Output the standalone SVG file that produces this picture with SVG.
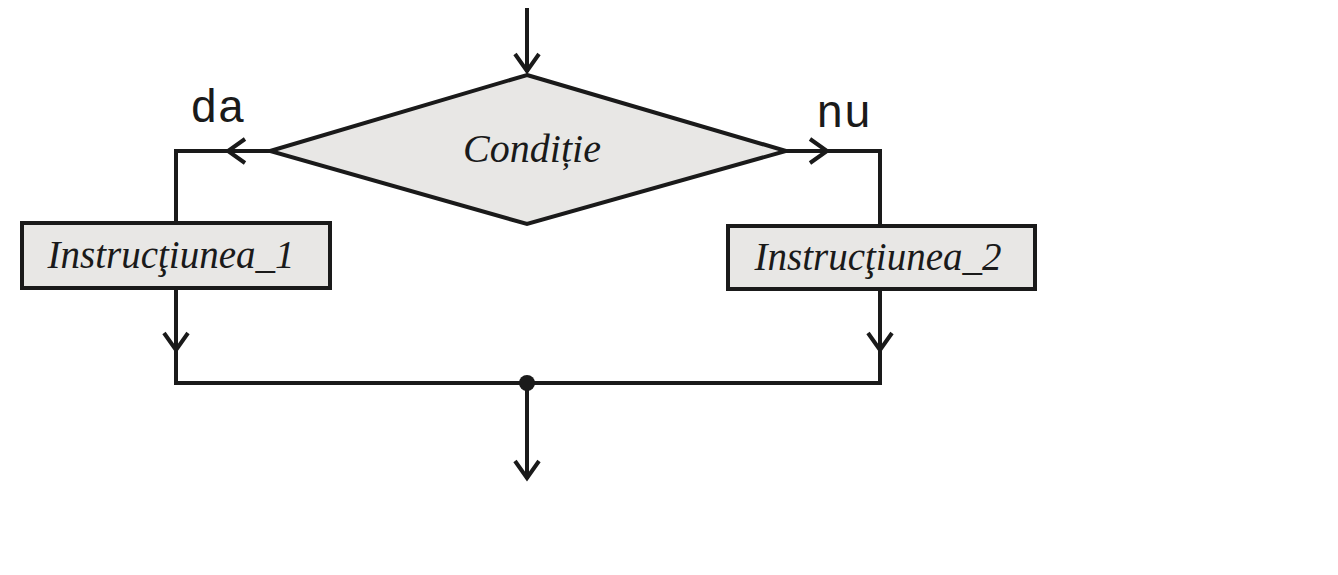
<svg xmlns="http://www.w3.org/2000/svg" width="1338" height="575" viewBox="0 0 1338 575">
  <style>
    .shape { fill: #e8e7e5; stroke: #1a1a1a; stroke-width: 4; }
    .line { fill: none; stroke: #1a1a1a; stroke-width: 4; stroke-linejoin: miter; }
    .arr { marker-end: url(#open); }
    .lbl { font-family: "Liberation Serif", "Times New Roman", serif; font-style: italic; fill: #1a1a1a; }
    .mono { font-family: "Liberation Mono", "Courier New", monospace; fill: #1a1a1a; }
  </style>
  <defs>
    <marker id="open" markerUnits="userSpaceOnUse" viewBox="-22 -16 26 32" markerWidth="26" markerHeight="32" refX="0" refY="0" orient="auto" overflow="visible">
      <path d="M-18,-12 L-1,0 L-18,12" fill="none" stroke="#1a1a1a" stroke-width="4" stroke-linejoin="miter"/>
    </marker>
  </defs>
  <rect width="1338" height="575" fill="#ffffff"/>

  <g id="connectors">
    <path class="line arr" d="M527,8 L527,72"/>
    <path class="line arr" d="M270,151 L227,151"/>
    <path class="line" d="M227,151 L176,151 L176,223"/>
    <path class="line arr" d="M786,151 L828,151"/>
    <path class="line" d="M828,151 L880,151 L880,226"/>
    <path class="line arr" d="M176,288 L176,351"/>
    <path class="line arr" d="M880,289 L880,351"/>
    <path class="line" d="M176,349 L176,383 L880,383 L880,349"/>
    <path class="line arr" d="M527,383 L527,479"/>
    <circle cx="527" cy="383" r="8" fill="#1a1a1a"/>
    <text class="mono" x="190" y="122" font-size="46">da</text>
    <text class="mono" x="816" y="127" font-size="46">nu</text>
  </g>

  <g id="decision">
    <polygon class="shape" points="527,75 786,151 527,224 270,151"/>
    <text class="lbl" x="532" y="162" font-size="40" text-anchor="middle">Condiție</text>
  </g>

  <g id="instr1">
    <rect class="shape" x="22" y="223" width="308" height="65"/>
    <text class="lbl" x="171" y="268" font-size="39" text-anchor="middle">Instrucţiunea_1</text>
  </g>

  <g id="instr2">
    <rect class="shape" x="728" y="226" width="307" height="63"/>
    <text class="lbl" x="878" y="270" font-size="39" text-anchor="middle">Instrucţiunea_2</text>
  </g>
</svg>
